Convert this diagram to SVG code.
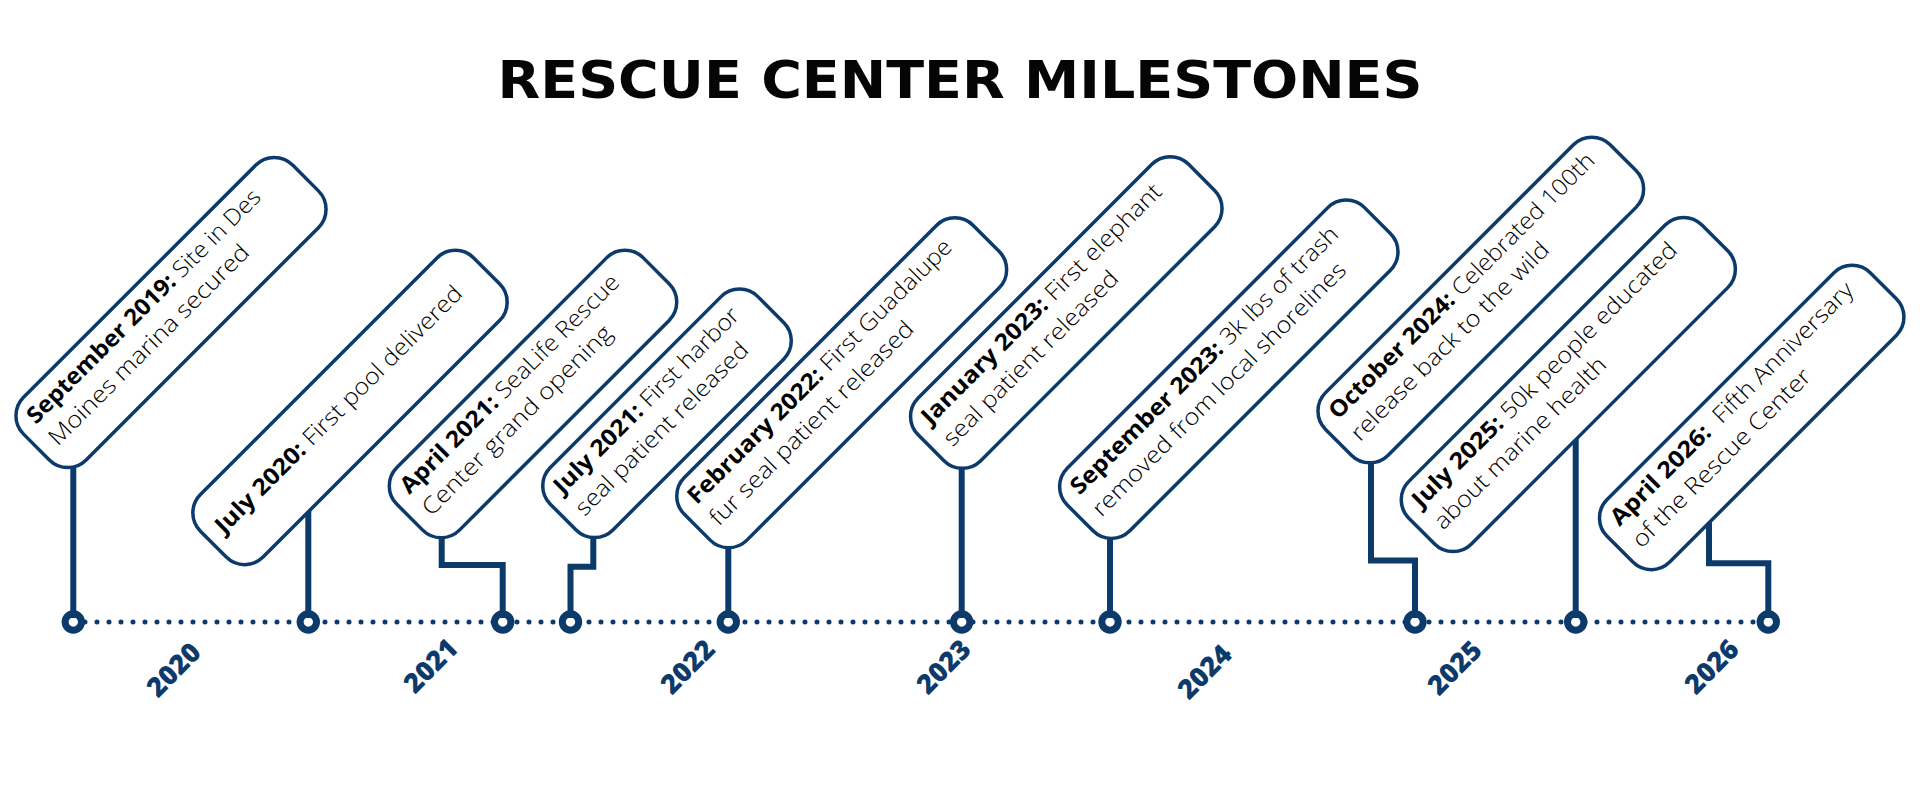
<svg xmlns="http://www.w3.org/2000/svg" width="1920" height="800" viewBox="0 0 1920 800">
<style>
  .bg{fill:#ffffff}
  .title{font-family:"DejaVu Sans","Liberation Sans",sans-serif;font-weight:bold;font-size:51px;fill:#050505}
  .box{fill:#ffffff;stroke:#0b3a6b;stroke-width:3.5}
  .t{font-family:"Open Sans","Lato","Liberation Sans",sans-serif;font-weight:300;font-size:23px;fill:#000000}
  .b{font-weight:700}
  .stem{fill:none;stroke:#0b3a6b;stroke-width:6;stroke-linejoin:miter}
  .dots{fill:none;stroke:#0b3a6b;stroke-width:5;stroke-linecap:round;stroke-dasharray:0 12}
  .ring{fill:#ffffff;stroke:#0b3a6b;stroke-width:7}
  .yr{font-family:"Open Sans","Lato","Liberation Sans",sans-serif;font-weight:800;font-size:27px;fill:#0b3a6b;text-anchor:middle}
</style>
<rect class="bg" x="0" y="0" width="1920" height="800"/>
<text class="title" x="960" y="98" text-anchor="middle" textLength="925" lengthAdjust="spacingAndGlyphs">RESCUE CENTER MILESTONES</text>

<g id="connectors">
  <path class="dots" d="M73,622 H1768"/>
  <circle class="ring" cx="73.3" cy="622" r="8.2"/>
  <circle class="ring" cx="308.3" cy="622" r="8.2"/>
  <circle class="ring" cx="502.7" cy="622" r="8.2"/>
  <circle class="ring" cx="570.5" cy="622" r="8.2"/>
  <circle class="ring" cx="728.3" cy="622" r="8.2"/>
  <circle class="ring" cx="961.7" cy="622" r="8.2"/>
  <circle class="ring" cx="1110" cy="622" r="8.2"/>
  <circle class="ring" cx="1415" cy="622" r="8.2"/>
  <circle class="ring" cx="1575.7" cy="622" r="8.2"/>
  <circle class="ring" cx="1768.3" cy="622" r="8.2"/>
  <path class="stem" d="M73.3,455 V618"/>
  <path class="stem" d="M308.3,500 V618"/>
  <path class="stem" d="M441.7,528 V565 H502.7 V618"/>
  <path class="stem" d="M593.3,528 V566.7 H570.5 V618"/>
  <path class="stem" d="M728.3,535 V618"/>
  <path class="stem" d="M961.7,455 V618"/>
  <path class="stem" d="M1110,528 V618"/>
  <path class="stem" d="M1371,450 V560.5 H1415 V618"/>
  <path class="stem" d="M1575.7,430 V618"/>
  <path class="stem" d="M1709,512 V563.3 H1768.3 V618"/>
</g>

<g id="m2019-09" transform="translate(171,312.5) rotate(-45)">
  <rect class="box" x="-190.25" y="-44.25" width="380.5" height="88.5" rx="26"/>
  <text class="t" x="-175" y="-16" textLength="320" lengthAdjust="spacingAndGlyphs"><tspan class="b">September 2019:</tspan> Site in Des</text>
  <text class="t" x="-175" y="15" textLength="273" lengthAdjust="spacingAndGlyphs">Moines marina secured</text>
</g>
<g id="m2020-07" transform="translate(350,407.5) rotate(-45)">
  <rect class="box" x="-193.25" y="-44.25" width="386.5" height="88.5" rx="26"/>
  <text class="t" x="-179" y="1" textLength="339" lengthAdjust="spacingAndGlyphs"><tspan class="b">July 2020:</tspan> First pool delivered</text>
</g>
<g id="m2021-04" transform="translate(533,394) rotate(-45)">
  <rect class="box" x="-174.25" y="-44.25" width="348.5" height="88.5" rx="26"/>
  <text class="t" x="-159" y="-16" textLength="299" lengthAdjust="spacingAndGlyphs"><tspan class="b">April 2021:</tspan> SeaLife Rescue</text>
  <text class="t" x="-159" y="15" textLength="258" lengthAdjust="spacingAndGlyphs">Center grand opening</text>
</g>
<g id="m2021-07" transform="translate(667,413.3) rotate(-45)">
  <rect class="box" x="-146.75" y="-44.25" width="293.5" height="88.5" rx="26"/>
  <text class="t" x="-131.5" y="-16" textLength="252" lengthAdjust="spacingAndGlyphs"><tspan class="b">July 2021:</tspan> First harbor</text>
  <text class="t" x="-131.5" y="15" textLength="234" lengthAdjust="spacingAndGlyphs">seal patient released</text>
</g>
<g id="m2022-02" transform="translate(841.7,382.8) rotate(-45)">
  <rect class="box" x="-204.25" y="-44.25" width="408.5" height="88.5" rx="26"/>
  <text class="t" x="-189" y="-16" textLength="363" lengthAdjust="spacingAndGlyphs"><tspan class="b">February 2022:</tspan> First Guadalupe</text>
  <text class="t" x="-189" y="15" textLength="278" lengthAdjust="spacingAndGlyphs">fur seal patient released</text>
</g>
<g id="m2023-01" transform="translate(1066.3,312.5) rotate(-45)">
  <rect class="box" x="-191.25" y="-44.25" width="382.5" height="88.5" rx="26"/>
  <text class="t" x="-176" y="-16" textLength="329" lengthAdjust="spacingAndGlyphs"><tspan class="b">January 2023:</tspan> First elephant</text>
  <text class="t" x="-176" y="15" textLength="237" lengthAdjust="spacingAndGlyphs">seal patient released</text>
</g>
<g id="m2023-09" transform="translate(1228.8,369.2) rotate(-45)">
  <rect class="box" x="-210.25" y="-44.25" width="420.5" height="88.5" rx="26"/>
  <text class="t" x="-195" y="-16" textLength="368" lengthAdjust="spacingAndGlyphs"><tspan class="b">September 2023:</tspan> 3k lbs of trash</text>
  <text class="t" x="-195" y="15" textLength="348" lengthAdjust="spacingAndGlyphs">removed from local shorelines</text>
</g>
<g id="m2024-10" transform="translate(1480.8,300) rotate(-45)">
  <rect class="box" x="-201.25" y="-44.25" width="402.5" height="88.5" rx="26"/>
  <text class="t" x="-186" y="-16" textLength="365" lengthAdjust="spacingAndGlyphs"><tspan class="b">October 2024:</tspan> Celebrated 100th</text>
  <text class="t" x="-186" y="15" textLength="270" lengthAdjust="spacingAndGlyphs">release back to the wild</text>
</g>
<g id="m2025-07" transform="translate(1568.3,384.5) rotate(-45)">
  <rect class="box" x="-207.25" y="-44.25" width="414.5" height="88.5" rx="26"/>
  <text class="t" x="-192" y="-16" textLength="364" lengthAdjust="spacingAndGlyphs"><tspan class="b">July 2025:</tspan> 50k people educated</text>
  <text class="t" x="-192" y="15" textLength="233" lengthAdjust="spacingAndGlyphs">about marine health</text>
</g>
<g id="m2026-04" transform="translate(1751.7,417.5) rotate(-45)">
  <rect class="box" x="-186.25" y="-44.25" width="372.5" height="88.5" rx="26"/>
  <text class="t" x="-171" y="-16" textLength="333" lengthAdjust="spacingAndGlyphs" xml:space="preserve"><tspan class="b">April 2026:</tspan>  Fifth Anniversary</text>
  <text class="t" x="-171" y="15" textLength="242" lengthAdjust="spacingAndGlyphs">of the Rescue Center</text>
</g>

<g id="years">
  <text class="yr" transform="translate(174,670) rotate(-45)" x="0" y="9">2020</text>
  <text class="yr" transform="translate(431,666) rotate(-45)" x="0" y="9">2021</text>
  <text class="yr" transform="translate(688,667) rotate(-45)" x="0" y="9">2022</text>
  <text class="yr" transform="translate(944,667) rotate(-45)" x="0" y="9">2023</text>
  <text class="yr" transform="translate(1205,672) rotate(-45)" x="0" y="9">2024</text>
  <text class="yr" transform="translate(1455,668) rotate(-45)" x="0" y="9">2025</text>
  <text class="yr" transform="translate(1712,667) rotate(-45)" x="0" y="9">2026</text>
</g>
</svg>
